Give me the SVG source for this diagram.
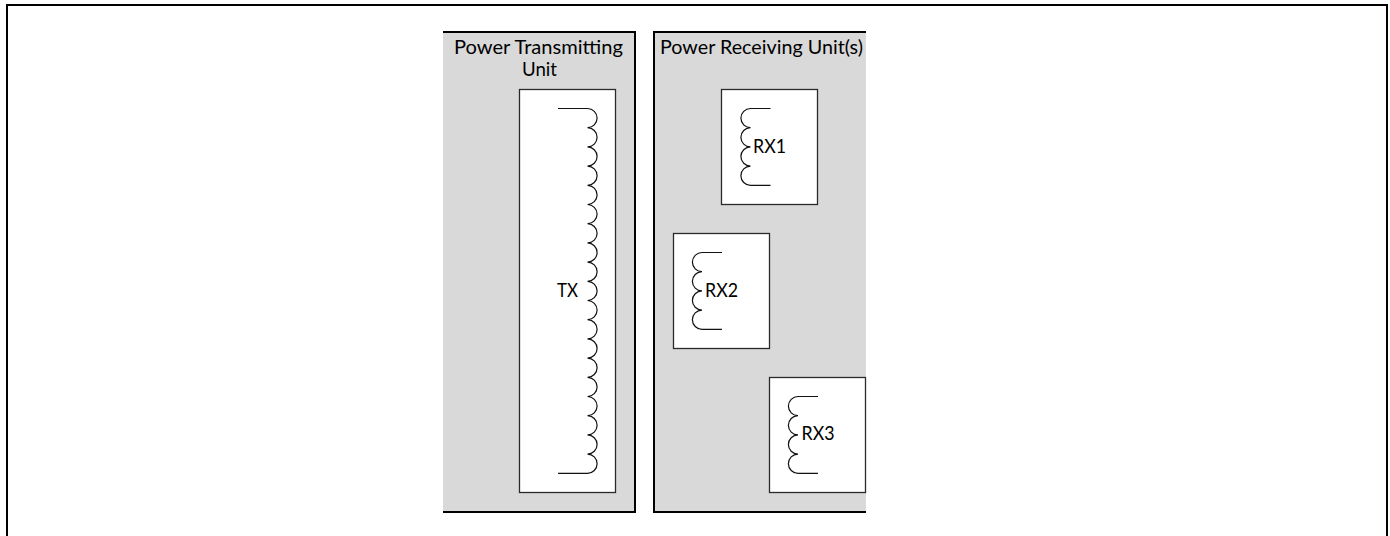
<svg xmlns="http://www.w3.org/2000/svg" width="1390" height="536" viewBox="0 0 1390 536">
<style>
text{font-family:"Lato","Open Sans","Liberation Sans",sans-serif;font-size:18.6px;fill:#000}
.panel{fill:#d9d9d9;stroke:none}
.edge{fill:none;stroke:#000;stroke-width:2}
.box{fill:#fff;stroke:#2a2a2a;stroke-width:1.3}
.coil{fill:none;stroke:#111;stroke-width:1.2}
</style>
<defs>
<path id="rxcoil" class="coil" d="M20 0H0A9.6 9.6 0 0 0 0 19.2A9.6 9.6 0 0 0 0 38.4A9.6 9.6 0 0 0 0 57.6A9.6 9.6 0 0 0 0 76.8H20"/>
</defs>
<path id="frame" d="M7 536V5H1387V536" fill="none" stroke="#000" stroke-width="2"/>
<g id="tx-unit">
<rect class="panel" x="443" y="32" width="192" height="480"/>
<path class="edge" d="M443 32H635V512H443"/>
<text x="454" y="53.5" textLength="169" lengthAdjust="spacingAndGlyphs">Power Transmitting</text>
<text x="522" y="75.5" textLength="35" lengthAdjust="spacingAndGlyphs">Unit</text>
</g>
<g id="rx-unit">
<rect class="panel" x="654" y="32" width="212" height="480"/>
<path class="edge" d="M866 32H654V512H866"/>
<text x="660" y="53.5" textLength="203" lengthAdjust="spacingAndGlyphs">Power Receiving Unit(s)</text>
</g>
<g id="tx">
<rect class="box" x="519.5" y="89.5" width="96" height="403"/>
<path class="coil" d="M558 108.500H587.500A9.600 9.600 0 0 1 587.500 127.700A9.600 9.600 0 0 1 587.500 146.900A9.600 9.600 0 0 1 587.500 166.100A9.600 9.600 0 0 1 587.500 185.300A9.600 9.600 0 0 1 587.500 204.500A9.600 9.600 0 0 1 587.500 223.700A9.600 9.600 0 0 1 587.500 242.900A9.600 9.600 0 0 1 587.500 262.100A9.600 9.600 0 0 1 587.500 281.300A9.600 9.600 0 0 1 587.500 300.500A9.600 9.600 0 0 1 587.500 319.700A9.600 9.600 0 0 1 587.500 338.900A9.600 9.600 0 0 1 587.500 358.100A9.600 9.600 0 0 1 587.500 377.300A9.600 9.600 0 0 1 587.500 396.500A9.600 9.600 0 0 1 587.500 415.700A9.600 9.600 0 0 1 587.500 434.900A9.600 9.600 0 0 1 587.500 454.100A9.600 9.600 0 0 1 587.500 473.300H558"/>
<text x="557" y="296.500" textLength="21" lengthAdjust="spacingAndGlyphs">TX</text>
</g>
<g id="rx1">
<rect class="box" x="721.500" y="89.500" width="96" height="115"/>
<use href="#rxcoil" x="750.500" y="108.500"/>
<text x="753" y="152.500" textLength="33" lengthAdjust="spacingAndGlyphs">RX1</text>
</g>
<g id="rx2">
<rect class="box" x="673.500" y="233.500" width="96" height="115"/>
<use href="#rxcoil" x="702" y="252.500"/>
<text x="705" y="296.500" textLength="33" lengthAdjust="spacingAndGlyphs">RX2</text>
</g>
<g id="rx3">
<rect class="box" x="769.500" y="377.500" width="96" height="115"/>
<use href="#rxcoil" x="798" y="396.500"/>
<text x="801.500" y="440" textLength="33" lengthAdjust="spacingAndGlyphs">RX3</text>
</g>
<g id="connectors"></g>
</svg>
